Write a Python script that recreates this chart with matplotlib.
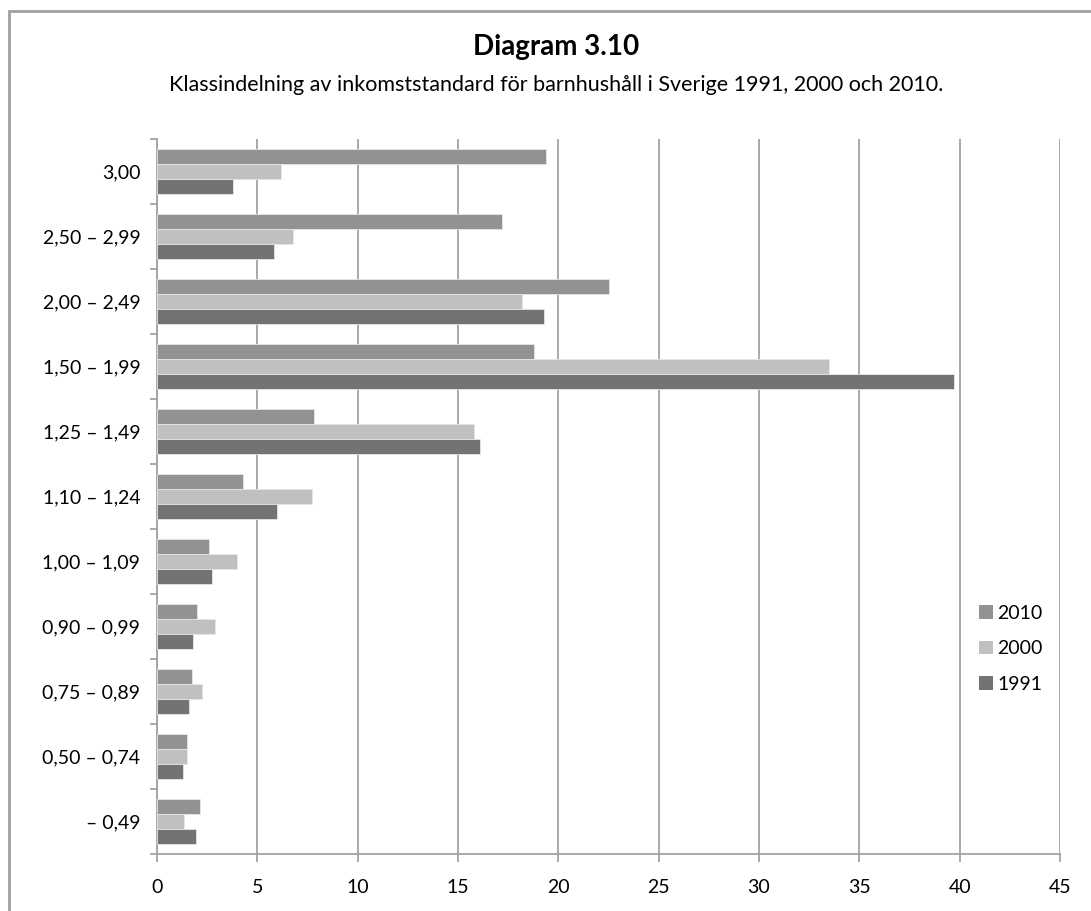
import numpy as np
import matplotlib.pyplot as plt
from matplotlib.patches import Rectangle

plt.rcParams['font.family'] = ['Lato', 'DejaVu Sans']

categories = ["3,00", "2,50 – 2,99", "2,00 – 2,49", "1,50 – 1,99", "1,25 – 1,49",
              "1,10 – 1,24", "1,00 – 1,09", "0,90 – 0,99", "0,75 – 0,89",
              "0,50 – 0,74", "– 0,49"]
v2010 = [19.4, 17.2, 22.5, 18.8, 7.8, 4.3, 2.6, 2.0, 1.75, 1.5, 2.15]
v2000 = [6.2, 6.8, 18.2, 33.5, 15.8, 7.7, 4.0, 2.9, 2.25, 1.5, 1.35]
v1991 = [3.8, 5.85, 19.3, 39.7, 16.1, 6.0, 2.75, 1.8, 1.6, 1.3, 1.95]

grid_col = "#a3a3a3"

fig = plt.figure(figsize=(10.91, 9.11), dpi=100)
ax = fig.add_axes([157/1091, 1 - 854/911, (1060-157)/1091, (854-139)/911])

n = len(categories)
y = np.arange(n)[::-1]
h = 0.226
ax.barh(y + h, v2010, height=h, color="#929292", edgecolor="#e6e6e6", linewidth=0.6, label="2010", zorder=3)
ax.barh(y, v2000, height=h, color="#c0c0c0", edgecolor="#e6e6e6", linewidth=0.6, label="2000", zorder=3)
ax.barh(y - h, v1991, height=h, color="#737373", edgecolor="#e6e6e6", linewidth=0.6, label="1991", zorder=3)

ax.set_xlim(0, 45)
ax.set_ylim(-0.5, n - 0.5)
ax.set_xticks(np.arange(0, 46, 5))
ax.grid(axis="x", color=grid_col, linewidth=1.3, zorder=0)

# boundary ticks between categories, labels at centres
ax.set_yticks(np.arange(-0.5, n, 1.0))
ax.set_yticklabels([])
ax.set_yticks(y, minor=True)
ax.set_yticklabels(categories, minor=True)
ax.tick_params(axis="y", which="minor", length=0, pad=12, labelsize=14)
ax.tick_params(axis="y", which="major", length=5, width=1.3, color=grid_col)
ax.tick_params(axis="x", length=6, width=1.3, color=grid_col, labelsize=14, pad=12)

for s in ["top", "right"]:
    ax.spines[s].set_visible(False)
for s in ["left", "bottom"]:
    ax.spines[s].set_color(grid_col)
    ax.spines[s].set_linewidth(1.3)

leg = ax.legend(loc="upper left", bbox_to_anchor=(0.891, 0.373), frameon=False,
                fontsize=14, handlelength=0.7, handleheight=0.7,
                handletextpad=0.25, labelspacing=0.95)
for p in leg.get_patches():
    p.set_edgecolor("none")

fig.text(0.51, 1 - 47/911, "Diagram 3.10", ha="center", va="center",
         fontsize=20, fontweight="bold")
fig.text(0.51, 1 - 85/911, "Klassindelning av inkomststandard för barnhushåll i Sverige 1991, 2000 och 2010.",
         ha="center", va="center", fontsize=15.5)

# outer chart frame (cut off on right and bottom)
fig.patches.append(Rectangle((9/1091, -0.1), 1.2, 1.1 - 11/911, transform=fig.transFigure,
                             fill=False, edgecolor="#a0a0a0", linewidth=2))

fig.savefig("out.png", dpi=100)
